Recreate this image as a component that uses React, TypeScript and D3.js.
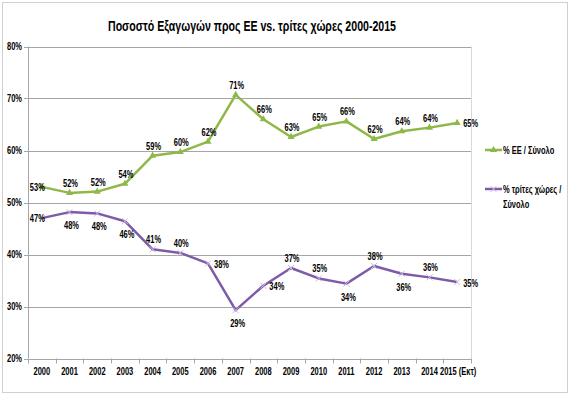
import React from "react";
import * as d3 from "d3";

const years = ["2000","2001","2002","2003","2004","2005","2006","2007","2008","2009","2010","2011","2012","2013","2014","2015 (Εκτ)"];
const euShare = [53.0,51.85,52.1,53.6,59.0,59.7,61.7,70.7,66.0,62.6,64.6,65.6,62.2,63.7,64.4,65.3];
const thirdShare = [47.0,48.15,47.9,46.4,41.0,40.3,38.3,29.3,34.0,37.4,35.4,34.4,37.8,36.3,35.6,34.7];
const euPos = ["left","above","above","above","above","above","above","above","above","above","above","above","above","above","above","right"];
const thirdPos = ["left","below","below","below","above","above","right","below","right","above","above","below","above","below","above","right"];
const yTicks = [20,30,40,50,60,70,80];
const seriesNames = ["% ΕΕ / Σύνολο", "% τρίτες χώρες /", "Σύνολο"];
const title = "Ποσοστό Εξαγωγών προς ΕΕ vs. τρίτες χώρες 2000-2015";

const GREEN = "#8EB847";
const PURPLE = "#7E5BA8";
const FONT = "'Liberation Sans', Arial, sans-serif";

function Txt({ x, y, anchor = "start", size = 10, sx = 0.75, children }: any) {
  return (
    <text transform={`translate(${x},${y}) scale(${sx},1)`} textAnchor={anchor} fontFamily={FONT} fontWeight="bold" fontSize={size} fill="#000">
      {children}
    </text>
  );
}

export default function App() {
  const W = 570, H = 395;
  const left = 28, right = 471, top = 46.5, bottom = 358.5;
  const x = d3.scaleBand<string>().domain(years).range([left, right]);
  const y = d3.scaleLinear().domain([20, 80]).range([bottom, top]);
  const cx = (i: number) => (x(years[i]) as number) + x.bandwidth() / 2;
  const line = d3.line<number>().x((_, i) => cx(i)).y(d => y(d));

  const labelPos = (pos: string, i: number, v: number) => {
    const px = cx(i), py = y(v);
    if (pos === "left") return { x: px - 4.5, y: py + 4, anchor: "middle" };
    if (pos === "right") return { x: px + 6, y: py + 4.5, anchor: "start" };
    if (pos === "above") return { x: px + 1, y: py - 6, anchor: "middle" };
    return { x: px + 2, y: py + 17, anchor: "middle" };
  };

  const tri = d3.symbol().type(d3.symbolTriangle).size(22)();

  return (
    <svg width={W} height={H} style={{ position: "absolute", left: 0, top: 0, background: "#fff" }}>
      <rect x={2.5} y={2.5} width={565} height={390} fill="#fff" stroke="#D0D0D0" />
      <text x={252} y={31} textAnchor="middle" fontFamily={FONT} fontWeight="bold" fontSize={15} textLength={288} lengthAdjust="spacingAndGlyphs" fill="#000">{title}</text>
      {yTicks.map(t => (
        <g key={t}>
          <line x1={left} x2={right} y1={Math.round(y(t)) + 0.5} y2={Math.round(y(t)) + 0.5} stroke="#A6A6A6" strokeWidth={1} />
          <line x1={left - 4} x2={left} y1={Math.round(y(t)) + 0.5} y2={Math.round(y(t)) + 0.5} stroke="#A6A6A6" />
          <Txt x={22} y={y(t) + 3.5} anchor="end">{t}%</Txt>
        </g>
      ))}
      <line x1={left + 0.5} x2={left + 0.5} y1={top} y2={bottom} stroke="#A6A6A6" />
      <line x1={right + 0.5} x2={right + 0.5} y1={top} y2={bottom} stroke="#D9D9D9" />
      {years.map((yr, i) => (
        <g key={yr}>
          <line x1={Math.round(x(yr) as number) + 0.5} x2={Math.round(x(yr) as number) + 0.5} y1={bottom} y2={bottom + 5} stroke="#A6A6A6" />
          <Txt x={i === 15 ? 440 : cx(i)} y={375} anchor={i === 15 ? "start" : "middle"}>{yr}</Txt>
        </g>
      ))}
      <line x1={right + 0.5} x2={right + 0.5} y1={bottom} y2={bottom + 5} stroke="#A6A6A6" />

      <path d={line(euShare) as string} fill="none" stroke={GREEN} strokeWidth={2.5} strokeLinejoin="round" />
      <path d={line(thirdShare) as string} fill="none" stroke={PURPLE} strokeWidth={2.5} strokeLinejoin="round" />
      {euShare.map((v, i) => (
        <path key={"m" + i} d={tri as string} transform={`translate(${cx(i)},${y(v)})`} fill={GREEN} />
      ))}
      {thirdShare.map((v, i) => (
        <g key={"x" + i} stroke="#C9B8E0" strokeWidth={1}>
          <line x1={cx(i) - 3} x2={cx(i) + 3} y1={y(v) - 3} y2={y(v) + 3} />
          <line x1={cx(i) - 3} x2={cx(i) + 3} y1={y(v) + 3} y2={y(v) - 3} />
        </g>
      ))}
      {euShare.map((v, i) => {
        const p = labelPos(euPos[i], i, v);
        return <Txt key={"el" + i} x={p.x} y={p.y} anchor={p.anchor}>{Math.round(v)}%</Txt>;
      })}
      {thirdShare.map((v, i) => {
        const p = labelPos(thirdPos[i], i, v);
        return <Txt key={"tl" + i} x={p.x} y={p.y} anchor={p.anchor}>{Math.round(v)}%</Txt>;
      })}

      <line x1={485} x2={502} y1={150} y2={150} stroke={GREEN} strokeWidth={2.5} />
      <path d={tri as string} transform="translate(493.5,150)" fill={GREEN} />
      <Txt x={503} y={153.5}>{seriesNames[0]}</Txt>
      <line x1={485} x2={502} y1={189} y2={189} stroke={PURPLE} strokeWidth={2.5} />
      <g stroke="#C9B8E0" strokeWidth={1}>
        <line x1={490.5} x2={496.5} y1={186} y2={192} />
        <line x1={490.5} x2={496.5} y1={192} y2={186} />
      </g>
      <Txt x={503} y={192.5}>{seriesNames[1]}</Txt>
      <Txt x={503} y={208}>{seriesNames[2]}</Txt>
    </svg>
  );
}
